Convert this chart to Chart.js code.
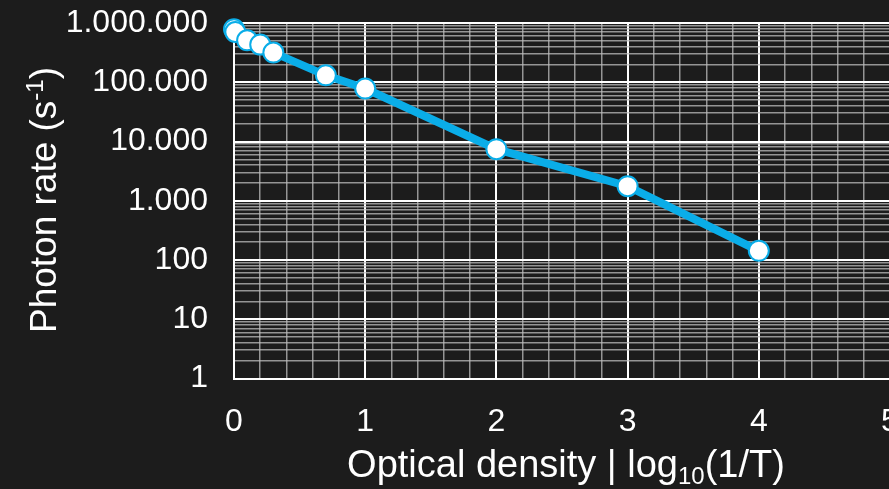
<!DOCTYPE html>
<html lang="en">
<head>
    <meta charset="UTF-8">
    <title>Photon rate vs optical density</title>
    <script src="https://cdn.jsdelivr.net/npm/chart.js"></script>
    <style>
        html, body {
            margin: 0;
            padding: 0;
            background: #1c1c1c;
            overflow: hidden;
        }

        .chart-box {
            position: relative;
            width: 920px;
            height: 489px;
        }
    </style>
</head>
<body>
    <div class="chart-box">
        <canvas id="rateChart"></canvas>
    </div>

    <script>
        // values
        const opticalDensity = [0, 0.01, 0.1, 0.2, 0.3, 0.7, 1, 2, 3, 4];
        const photonRate = [784000, 705000, 511000, 432000, 317000, 131000, 78300, 7420, 1760, 143];

        // major tick labels
        const xTickValues = [0, 1, 2, 3, 4, 5];
        const yTickValues = [1, 10, 100, 1000, 10000, 100000, 1000000];

        const xTitleParts = [
            { text: 'Optical density | log' },
            { text: '10', sub: true },
            { text: '(1/T)' }
        ];
        const yTitleParts = [
            { text: 'Photon rate (s' },
            { text: '-1', sup: true },
            { text: ')' }
        ];

        const FONT = '"Liberation Sans", Arial, sans-serif';
        const lineBlue = '#0aade8';

        function withDots(v) {
            return String(v).replace(/\B(?=(\d{3})+(?!\d))/g, '.');
        }

        // draw a title that has a sub- or superscript piece
        function drawRich(ctx, parts, cx, cy, angle, size) {
            const small = Math.round(size * 0.64);
            ctx.save();
            ctx.translate(cx, cy);
            ctx.rotate(angle);
            ctx.fillStyle = '#ffffff';
            ctx.textBaseline = 'alphabetic';
            ctx.textAlign = 'left';
            let total = 0;
            parts.forEach(p => {
                ctx.font = ((p.sub || p.sup) ? small : size) + 'px ' + FONT;
                p.w = ctx.measureText(p.text).width;
                total += p.w;
            });
            let x = -total / 2;
            parts.forEach(p => {
                ctx.font = ((p.sub || p.sup) ? small : size) + 'px ' + FONT;
                let dy = 0;
                if (p.sub) dy = size * 0.18;
                if (p.sup) dy = -size * 0.36;
                ctx.fillText(p.text, x, dy);
                x += p.w;
            });
            ctx.restore();
        }

        const axisTitles = {
            id: 'axisTitles',
            afterDraw(chart) {
                const ctx = chart.ctx;
                drawRich(ctx, xTitleParts, 566, 477, 0, 38);
                drawRich(ctx, yTitleParts, 56, 200, -Math.PI / 2, 37);
            }
        };

        window.addEventListener('DOMContentLoaded', () => {
            const ctx = document.getElementById('rateChart').getContext('2d');
            new Chart(ctx, {
                type: 'line',
                data: {
                    datasets: [{
                        data: opticalDensity.map((x, i) => ({ x: x, y: photonRate[i] })),
                        borderColor: lineBlue,
                        borderWidth: 8,
                        pointRadius: 10,
                        pointHoverRadius: 10,
                        pointBackgroundColor: '#ffffff',
                        pointBorderColor: lineBlue,
                        pointBorderWidth: 2,
                        tension: 0,
                        clip: false
                    }]
                },
                options: {
                    responsive: true,
                    maintainAspectRatio: false,
                    animation: false,
                    layout: {
                        padding: { top: 23, right: 30, bottom: 0, left: 0 }
                    },
                    plugins: {
                        legend: { display: false },
                        tooltip: { enabled: false }
                    },
                    scales: {
                        x: {
                            type: 'linear',
                            min: 0,
                            max: 5,
                            afterBuildTicks(scale) {
                                const ticks = [];
                                xTickValues.forEach((v, i) => {
                                    ticks.push({ value: v });
                                    if (i < xTickValues.length - 1) {
                                        const step = (xTickValues[i + 1] - v) / 5;
                                        for (let k = 1; k < 5; k++) ticks.push({ value: v + k * step });
                                    }
                                });
                                scale.ticks = ticks;
                            },
                            afterFit(scale) {
                                scale.height = 110.5;
                                scale.paddingLeft = 0;
                                scale.paddingRight = 0;
                            },
                            border: { color: '#ffffff', width: 2 },
                            grid: {
                                drawTicks: false,
                                color: c => xTickValues.includes(c.tick.value) ? '#ffffff' : 'rgba(190,190,190,0.75)',
                                lineWidth: c => xTickValues.includes(c.tick.value) ? 2 : 1.5
                            },
                            ticks: {
                                autoSkip: false,
                                maxRotation: 0,
                                minRotation: 0,
                                padding: 24,
                                color: '#ffffff',
                                font: { family: FONT, size: 32 },
                                callback: v => xTickValues.includes(v) ? String(v) : ''
                            }
                        },
                        y: {
                            type: 'logarithmic',
                            min: 1,
                            max: 1000000,
                            afterBuildTicks(scale) {
                                const ticks = [];
                                yTickValues.forEach((v, i) => {
                                    ticks.push({ value: v, major: true });
                                    if (i < yTickValues.length - 1) {
                                        for (let k = 2; k < 10; k++) ticks.push({ value: v * k });
                                    }
                                });
                                scale.ticks = ticks;
                            },
                            afterFit(scale) {
                                scale.width = 234;
                                scale.paddingTop = 0;
                                scale.paddingBottom = 0;
                            },
                            border: { color: '#ffffff', width: 2 },
                            grid: {
                                drawTicks: false,
                                color: c => yTickValues.includes(c.tick.value) ? '#ffffff' : 'rgba(190,190,190,0.75)',
                                lineWidth: c => yTickValues.includes(c.tick.value) ? 2 : 1.5
                            },
                            ticks: {
                                autoSkip: false,
                                padding: 26,
                                color: '#ffffff',
                                font: { family: FONT, size: 32 },
                                callback: v => yTickValues.includes(v) ? withDots(v) : ''
                            }
                        }
                    }
                },
                plugins: [axisTitles]
            });
        });
    </script>
</body>
</html>
